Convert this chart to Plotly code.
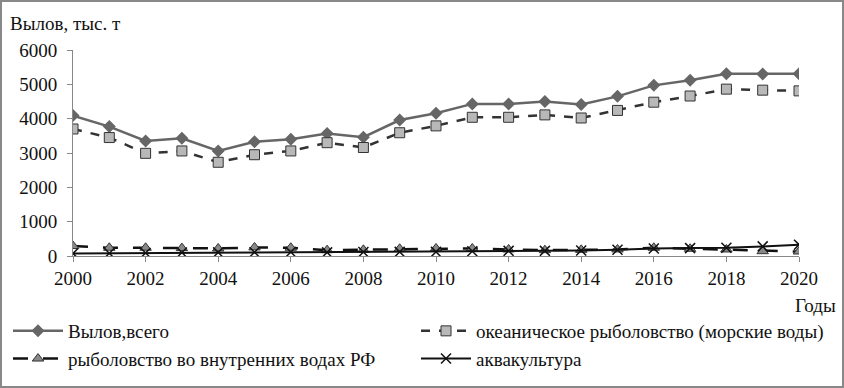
import plotly.graph_objects as go

years = list(range(2000, 2021))
total = [4090, 3770, 3350, 3430, 3060, 3330, 3400, 3570, 3460, 3960,
         4160, 4430, 4430, 4500, 4410, 4650, 4970, 5120, 5310, 5300, 5310]
ocean = [3700, 3450, 2990, 3060, 2730, 2950, 3060, 3300, 3160, 3590,
         3790, 4040, 4040, 4110, 4020, 4240, 4480, 4660, 4860, 4830, 4810]
inland = [290, 240, 240, 230, 220, 250, 240, 170, 180, 210,
          220, 220, 190, 170, 180, 190, 240, 210, 190, 140, 130]
aqua = [75, 80, 90, 100, 105, 110, 115, 105, 115, 120,
        120, 140, 150, 150, 160, 180, 220, 230, 240, 280, 330]

names = ["Вылов,всего", "океаническое рыболовство (морские воды)",
         "рыболовство во внутренних водах РФ", "аквакультура"]
x_ticks = list(range(2000, 2021, 2))
y_ticks = [0, 1000, 2000, 3000, 4000, 5000, 6000]

W, H = 844, 388
L, R, T, B = 73, 45, 50, 132
pw, ph = W - L - R, H - T - B

def px(xp):
    return (xp - L) / pw

def py(yp):
    return (H - B - yp) / ph

font = "Liberation Serif"
fig = go.Figure()
fig.add_trace(go.Scatter(x=years, y=total, name=names[0], mode="lines+markers",
                         legend="legend",
                         line=dict(color="#666666", width=2.5),
                         marker=dict(symbol="diamond", size=10, color="#666666")))
fig.add_trace(go.Scatter(x=years, y=ocean, name=names[1], mode="lines+markers",
                         legend="legend2",
                         line=dict(color="#333333", width=2.5, dash="dash"),
                         marker=dict(symbol="square", size=10, color="#b8b8b8",
                                     line=dict(color="#333333", width=1))))
fig.add_trace(go.Scatter(x=years, y=inland, name=names[2], mode="lines+markers",
                         legend="legend",
                         line=dict(color="#111111", width=2.5, dash="longdash"),
                         marker=dict(symbol="triangle-up", size=10, color="#888888",
                                     line=dict(color="#333333", width=1))))
fig.add_trace(go.Scatter(x=years, y=aqua, name=names[3], mode="lines+markers",
                         legend="legend2",
                         line=dict(color="#111111", width=2),
                         marker=dict(symbol="x-thin", size=10,
                                     line=dict(color="#111111", width=1.5))))

leg_common = dict(orientation="v", xanchor="left", yanchor="top",
                  font=dict(family=font, size=19, color="#111111"),
                  bgcolor="rgba(0,0,0,0)", tracegroupgap=0, itemwidth=50)

fig.update_layout(
    width=W, height=H,
    margin=dict(l=L, r=R, t=T, b=B, autoexpand=False),
    paper_bgcolor="white", plot_bgcolor="white",
    font=dict(family=font, size=19, color="#111111"),
    showlegend=True,
    legend=dict(x=px(8), y=py(312), **leg_common),
    legend2=dict(x=px(416), y=py(312), **leg_common),
    xaxis=dict(range=[2000, 2020], tickvals=x_ticks, showgrid=False, zeroline=False,
               showline=True, linecolor="#888888", linewidth=1,
               ticks="outside", ticklen=5, tickcolor="#888888",
               tickfont=dict(family=font, size=19)),
    yaxis=dict(range=[0, 6000], tickvals=y_ticks, showgrid=False, zeroline=False,
               showline=True, linecolor="#888888", linewidth=1,
               ticks="outside", ticklen=5, tickcolor="#888888",
               ticklabelstandoff=6,
               tickfont=dict(family=font, size=19)),
    annotations=[
        dict(text="Вылов, тыс. т", xref="paper", yref="paper", x=px(8), y=py(23),
             xanchor="left", yanchor="middle", showarrow=False,
             font=dict(family=font, size=19)),
        dict(text="Годы", xref="paper", yref="paper", x=px(838), y=py(305),
             xanchor="right", yanchor="middle", showarrow=False,
             font=dict(family=font, size=19)),
    ],
    shapes=[dict(type="rect", xref="paper", yref="paper",
                 x0=px(1), x1=px(W - 1), y0=py(1), y1=py(H - 1),
                 line=dict(color="#888888", width=2), layer="below")],
)

fig.write_html("out.html", config={"displayModeBar": False},
               post_script="document.body.style.margin='0';")
